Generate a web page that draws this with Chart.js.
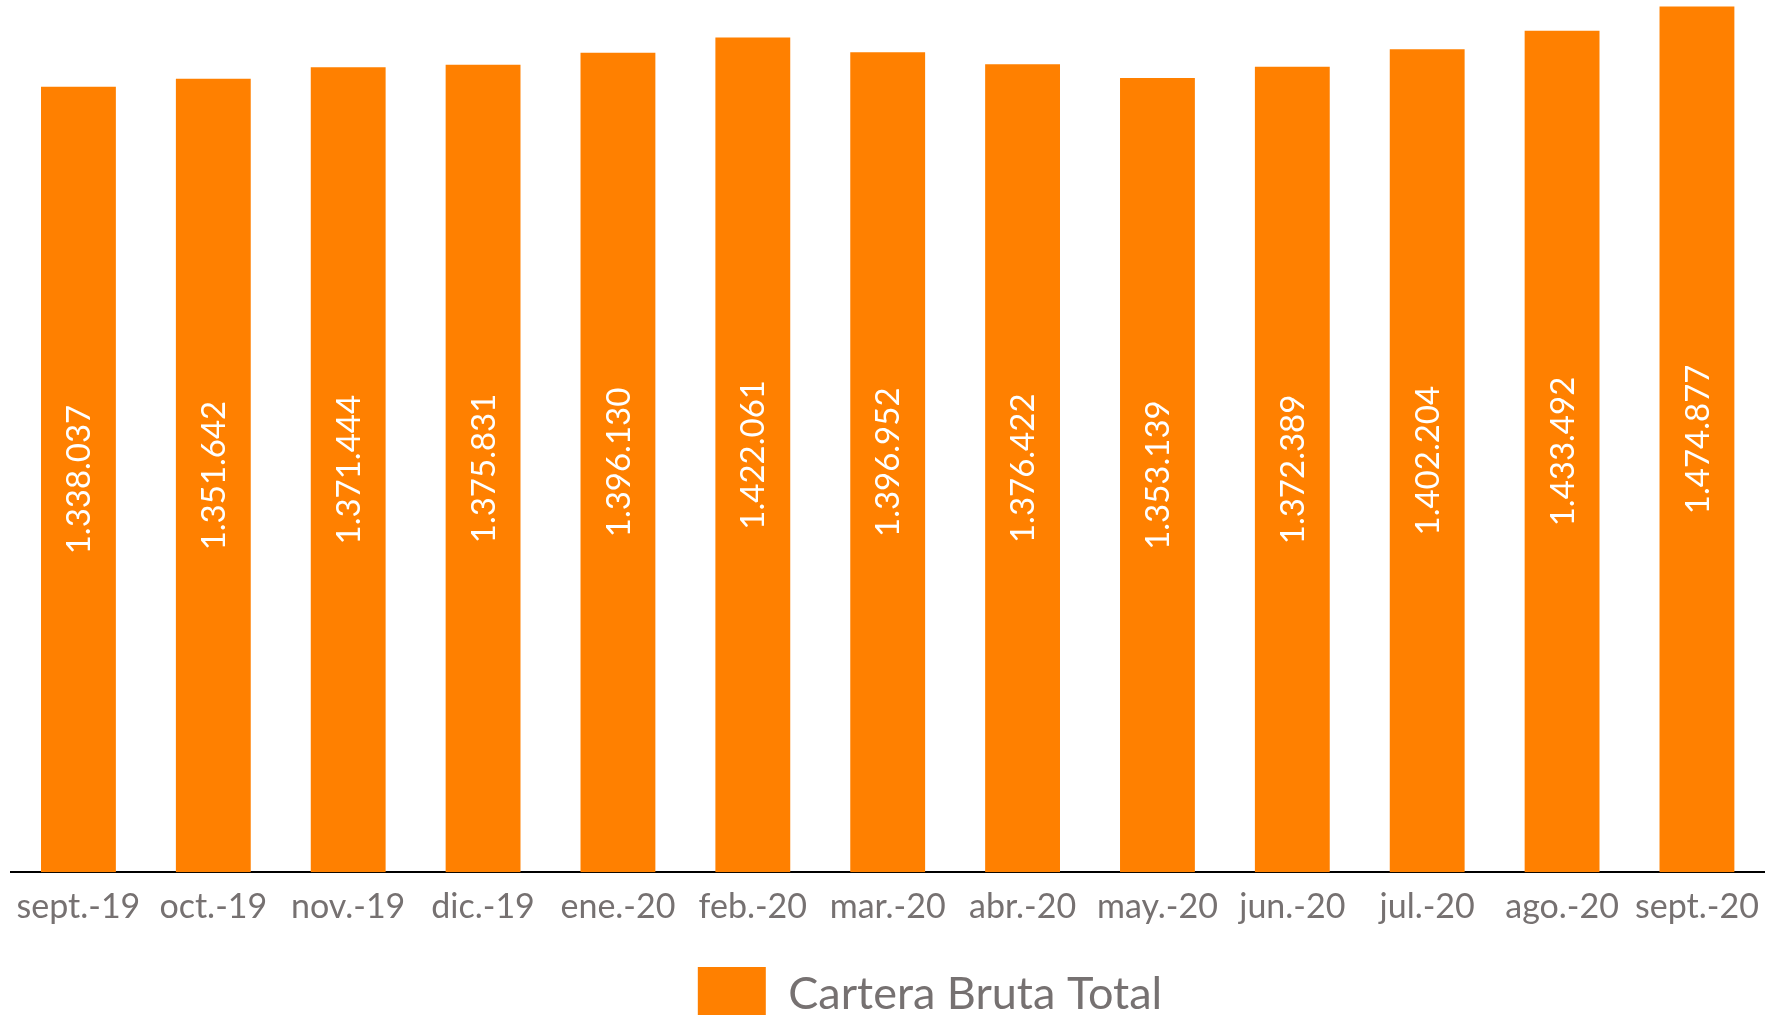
<!DOCTYPE html>
<html>
<head>
<meta charset="utf-8">
<script src="https://cdn.jsdelivr.net/npm/chart.js@4.4.0/dist/chart.umd.min.js"></script>
<style>
  html, body { margin: 0; padding: 0; background: #fff; }
  #wrap { width: 1773px; height: 1015px; }
</style>
</head>
<body>
<div id="wrap"><canvas id="barChart"></canvas></div>
<script>
// datos de la grafica
var meses = ["sept.-19", "oct.-19", "nov.-19", "dic.-19", "ene.-20", "feb.-20", "mar.-20",
             "abr.-20", "may.-20", "jun.-20", "jul.-20", "ago.-20", "sept.-20"];
var carteraBruta = [1338037, 1351642, 1371444, 1375831, 1396130, 1422061, 1396952,
                    1376422, 1353139, 1372389, 1402204, 1433492, 1474877];
var serieNombre = "Cartera Bruta Total";

var naranja = "rgb(255,128,0)";
var gris = "#767171";
var fuente = "Lato, 'Open Sans', sans-serif";

function formato(v) {
    return v.toString().replace(/\B(?=(\d{3})+(?!\d))/g, ".");
}

// etiquetas verticales dentro de las barras
var etiquetasBarras = {
    id: 'etiquetasBarras',
    afterLayout: function (chart) {
        // la leyenda original esta un poco corrida a la derecha
        if (chart.legend) {
            chart.legend.left += 40;
            chart.legend.right += 40;
        }
    },
    afterDatasetsDraw: function (chart) {
        var ctx = chart.ctx;
        var meta = chart.getDatasetMeta(0);
        ctx.save();
        ctx.fillStyle = "#ffffff";
        ctx.font = "33px " + fuente;
        ctx.textAlign = "center";
        ctx.textBaseline = "middle";
        meta.data.forEach(function (bar, i) {
            var yc = (bar.y + bar.base) / 2;
            ctx.save();
            ctx.translate(bar.x, yc);
            ctx.rotate(-Math.PI / 2);
            ctx.fillText(formato(carteraBruta[i]), 0, 1);
            ctx.restore();
        });
        ctx.restore();
    }
};

var barCanvas = document.getElementById("barChart");
var grafica = new Chart(barCanvas, {
    type: 'bar',
    data: {
        labels: meses,
        datasets: [{
            label: serieNombre,
            data: carteraBruta,
            backgroundColor: naranja,
            borderWidth: 0,
            categoryPercentage: 1,
            barPercentage: 0.555
        }]
    },
    options: {
        responsive: true,
        maintainAspectRatio: false,
        animation: false,
        layout: { padding: { left: 11, right: 4, top: 0, bottom: -16 } },
        plugins: {
            tooltip: { enabled: false },
            legend: {
                position: 'bottom',
                labels: {
                    color: gris,
                    font: { family: fuente, size: 45 },
                    boxWidth: 68,
                    boxHeight: 54,
                    padding: 26
                }
            }
        },
        scales: {
            x: {
                grid: { display: false, drawTicks: false },
                border: { display: true, color: "#000000", width: 2 },
                ticks: {
                    color: gris,
                    font: { family: fuente, size: 34 },
                    maxRotation: 0,
                    autoSkip: false,
                    padding: 14
                }
            },
            y: {
                display: false,
                min: 0,
                max: 1486000
            }
        }
    },
    plugins: [etiquetasBarras]
});
</script>
</body>
</html>
